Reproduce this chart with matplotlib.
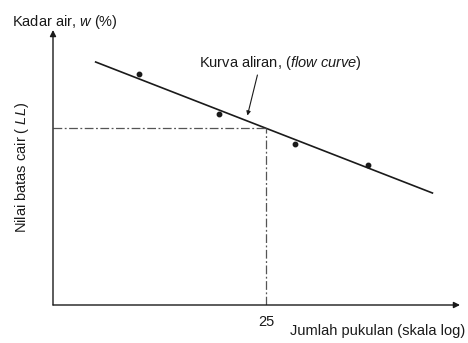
import numpy as np
import matplotlib.pyplot as plt

plt.rcParams['font.family'] = ['Liberation Sans', 'DejaVu Sans']
plt.rcParams['mathtext.fontset'] = 'custom'
plt.rcParams['mathtext.rm'] = 'Liberation Sans'
plt.rcParams['mathtext.it'] = 'Liberation Sans:italic'

# liquid limit test: number of blows vs water content
blows = [9.6, 17.5, 31, 54]
water = [66.2, 58.2, 52.2, 48.0]

# fitted flow curve (straight on semi-log paper)
flow_blows = [6.9, 87.7]
flow_water = [68.6, 42.4]

ll_blows = 25
ll_water = 55.4

ink = '#1a1a1a'
fs = 10.5

fig = plt.figure(figsize=(4.68, 3.43), dpi=100)
ax = fig.add_axes([53/468, 38/343, 407/468, 275/343])
ax.set_xscale('log')
ax.set_xlim(5, 108)
ax.set_ylim(20, 75)
for s in ax.spines.values():
    s.set_visible(False)

# axes drawn as arrows
ax.annotate('', xy=(0, 1), xytext=(0, 0), xycoords='axes fraction',
            arrowprops=dict(arrowstyle='-|>', color=ink, lw=1.0,
                            mutation_scale=9, shrinkA=0, shrinkB=0))
ax.annotate('', xy=(1, 0), xytext=(0, 0), xycoords='axes fraction',
            arrowprops=dict(arrowstyle='-|>', color=ink, lw=1.0,
                            mutation_scale=9, shrinkA=0, shrinkB=0))

ax.plot(flow_blows, flow_water, '-', color=ink, lw=1.2)
ax.plot(blows, water, 'o', color=ink, markersize=3.2)

# read-off of liquid limit at 25 blows
dash = (0, (7, 2, 1.5, 2))
ax.plot([5, ll_blows], [ll_water, ll_water], color='#555555', lw=0.9, linestyle=dash)
ax.plot([ll_blows, ll_blows], [20, ll_water], color='#555555', lw=0.9, linestyle=dash)

ax.set_xticks([ll_blows])
ax.set_xticklabels(['25'])
ax.minorticks_off()
ax.set_yticks([])
ax.tick_params(axis='x', length=0, pad=7, labelsize=fs, colors=ink)

# flow curve label with pointer
ax.text(27.8, 66.6, 'Kurva aliran, ($\\it{flow\\ curve}$)', fontsize=fs, color=ink,
        ha='center', va='bottom')
ax.annotate('', xy=(21.7, 57.9), xytext=(23.4, 66.0),
            arrowprops=dict(arrowstyle='-|>', color=ink, lw=0.8,
                            mutation_scale=6, shrinkA=0, shrinkB=0))

fig.text(12/468, 1 - 22/343, 'Kadar air, $\\it{w}$ (%)', fontsize=fs, color=ink,
         ha='left', va='center')
fig.text(22/468, 1 - 167/343, 'Nilai batas cair ( $\\it{LL}$)', fontsize=fs, color=ink,
         ha='center', va='center', rotation=90)
fig.text(290/468, 1 - 331/343, 'Jumlah pukulan (skala log)', fontsize=fs, color=ink,
         ha='left', va='center')

fig.savefig('out.png', dpi=100)
